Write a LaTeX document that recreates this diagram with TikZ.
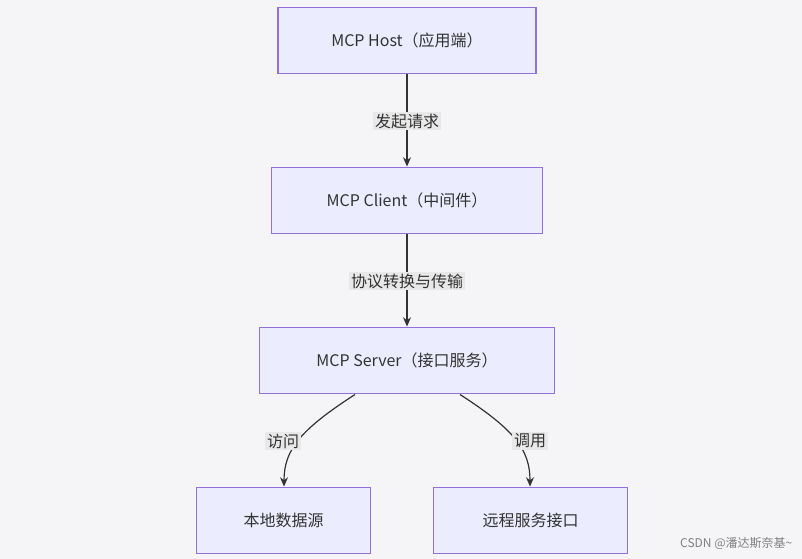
\documentclass[tikz,border=0pt]{standalone}
\usepackage{fontspec}
\setmainfont{Noto Sans CJK SC}
\usetikzlibrary{arrows.meta}
\definecolor{bg}{HTML}{F5F5F7}
\definecolor{nfill}{HTML}{ECECFF}
\definecolor{nborder}{HTML}{9370DB}
\definecolor{txt}{HTML}{333333}
\definecolor{lbl}{HTML}{E8E8E8}
\begin{document}
\begin{tikzpicture}[x=0.75pt,y=-0.75pt,
  box/.style={draw=nborder,fill=nfill,line width=0.9pt,text=txt,font=\fontsize{12}{14}\selectfont,inner sep=0pt},
  lab/.style={fill=lbl,text=txt,font=\fontsize{12}{14}\selectfont,inner sep=1.5pt},
  conn/.style={draw=txt,line width=0.9pt,-{Stealth[length=7pt,width=6pt]}}]
\fill[bg] (0,0) rectangle (802,559);
\useasboundingbox (0,0) rectangle (802,559);
\node[box,minimum width=193.5pt,minimum height=50pt] (host) at (407,40.5) {MCP Host（应用端）};
\node[box,minimum width=203pt,minimum height=50pt] (client) at (407,200.5) {MCP Client（中间件）};
\node[box,minimum width=221pt,minimum height=50pt] (server) at (407,360.5) {MCP Server（接口服务）};
\node[box,minimum width=131pt,minimum height=50pt] (local) at (283.5,520.5) {本地数据源};
\node[box,minimum width=146pt,minimum height=50pt] (remote) at (530.5,520.5) {远程服务接口};
\coordinate (s1) at (355,394.5);
\coordinate (s2) at (460,394.5);
\draw[conn] (host) -- (client);
\draw[conn] (client) -- (server);
\draw[conn] (s1) .. controls (300,430) and (284,450) .. (local.north -| 284,0);
\draw[conn] (s2) .. controls (515,430) and (530,450) .. (remote.north -| 530,0);
\node[lab] (l1) at (407,121) {发起请求};
\node[lab] (l2) at (407,281) {协议转换与传输};
\node[lab] (l3) at (283,441) {访问};
\node[lab] (l4) at (530,441) {调用};
\node[text=gray,font=\fontsize{9}{10}\selectfont,anchor=east] (csdn) at (797,543) {CSDN @潘达斯奈基\textasciitilde};
\end{tikzpicture}
\end{document}
